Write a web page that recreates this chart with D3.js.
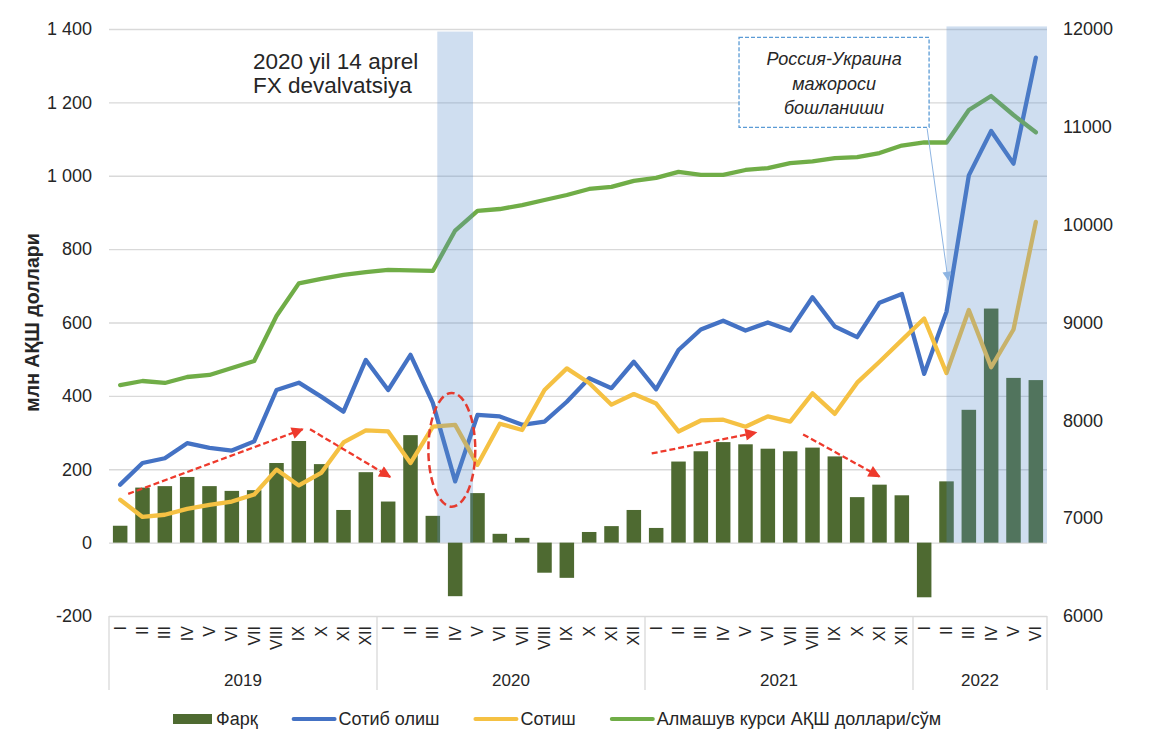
<!DOCTYPE html>
<html>
<head>
<meta charset="utf-8">
<title>Валюта савдоси</title>
<style>
    body { margin: 0; background: #fff; }
    text { font-family: "Liberation Sans", Arial, sans-serif; fill: #262626; }
</style>
</head>
<body>
<div class="plot_container"></div>
<script src="https://cdn.jsdelivr.net/npm/d3@7"></script>
<script>
// data
var months = ["I","II","III","IV","V","VI","VII","VIII","IX","X","XI","XII",
              "I","II","III","IV","V","VI","VII","VIII","IX","X","XI","XII",
              "I","II","III","IV","V","VI","VII","VIII","IX","X","XI","XII",
              "I","II","III","IV","V","VI"];
var years = ["2019", "2020", "2021", "2022"];
var yearLen = [12, 12, 12, 6];
var farq = [46, 150, 154, 179, 154, 141, 143, 217, 277, 214, 89, 192,
            112, 293, 73, -146, 135, 24, 13, -82, -96, 29, 45, 89,
            40, 221, 249, 274, 268, 256, 249, 259, 235, 124, 158, 129,
            -149, 167, 362, 638, 449, 443];
var sotib = [158, 217, 230, 271, 258, 251, 276, 416, 436, 398, 357, 498,
             416, 512, 381, 167, 348, 344, 321, 330, 384, 448, 421, 493,
             418, 525, 581, 605, 578, 600, 578, 669, 589, 560, 654, 678,
             460, 629, 1001, 1122, 1033, 1322];
var sotish = [117, 70, 76, 92, 103, 112, 131, 199, 156, 190, 273, 306,
              303, 217, 316, 321, 212, 324, 307, 416, 475, 435, 376, 405,
              379, 303, 333, 335, 316, 344, 330, 407, 351, 436, 493, 552,
              611, 462, 634, 478, 581, 874];
var kurs = [8361, 8402, 8382, 8443, 8464, 8535, 8607, 9066, 9400, 9445, 9486, 9516,
            9537, 9532, 9527, 9940, 10140, 10160, 10200, 10252, 10303, 10365, 10386, 10447,
            10478, 10539, 10508, 10508, 10559, 10578, 10629, 10648, 10680, 10690, 10732, 10809,
            10840, 10840, 11172, 11315, 11121, 10944];
var leftTicks = [-200, 0, 200, 400, 600, 800, 1000, 1200, 1400];
var rightTicks = [6000, 7000, 8000, 9000, 10000, 11000, 12000];
var seriesNames = ["Фарқ", "Сотиб олиш", "Сотиш", "Алмашув курси АҚШ доллари/сўм"];
var seriesColors = ["#4e6a31", "#4472c4", "#f5c143", "#70ad47"];

// annotations (month index, value)
var shades = [{i0: 14.2, i1: 15.8, v0: 0, v1: 1393}, {i0: 37, i1: 41.5, v0: 0, v1: 1407}];
var trendArrows = [{i0: 0.36, v0: 133, i1: 8.17, v1: 309},
                   {i0: 8.5, v0: 309, i1: 12.09, v1: 179},
                   {i0: 23.8, v0: 243, i1: 28.48, v1: 300},
                   {i0: 30.58, v0: 295, i1: 34.0, v1: 180}];

(function(){
var width = 1168, height = 750;
var plotL = 109, plotR = 1047, plotT = 29, plotB = 616;

var svg = d3.select(".plot_container").append("svg")
        .attr("width", width)
        .attr("height", height);

var x = d3.scaleBand()
        .domain(d3.range(months.length))
        .range([plotL, plotR])
        .paddingInner(0.35)
        .paddingOuter(0.175);
var xc = function(i){ return x(0) + x.bandwidth()/2 + i*x.step(); };
var yL = d3.scaleLinear().domain([-200, 1400]).range([plotB, plotT]);
var yR = d3.scaleLinear().domain([6000, 12000]).range([plotB, plotT]);

// grid + left axis
var gL = svg.append("g")
        .attr("transform", "translate(" + plotL + ",0)")
        .call(d3.axisLeft(yL).tickValues(leftTicks)
            .tickSize(-(plotR-plotL)).tickPadding(17)
            .tickFormat(function(d){ return d3.format(",")(d).replace(",", " ").replace("\u2212", "-"); }));
gL.select(".domain").remove();
gL.selectAll("line").attr("stroke", "#d9d9d9").attr("stroke-width", 1.3);
gL.selectAll("text").style("font-size", "18px").attr("fill", "#262626");

var gR = svg.append("g")
        .attr("transform", "translate(" + plotR + ",0)")
        .call(d3.axisRight(yR).tickValues(rightTicks).tickSize(0).tickPadding(16)
            .tickFormat(d3.format("d")));
gR.select(".domain").remove();
gR.selectAll("text").style("font-size", "18px").attr("fill", "#262626");

// category axis
var sep = [0];
yearLen.forEach(function(n, k){ sep.push(sep[k] + n); });
svg.selectAll(".sep").data(sep).enter().append("line")
        .attr("x1", function(d){ return xc(d - 0.5); })
        .attr("x2", function(d){ return xc(d - 0.5); })
        .attr("y1", plotB).attr("y2", 690)
        .attr("stroke", "#d9d9d9").attr("stroke-width", 1.3);

svg.selectAll(".month").data(months).enter().append("text")
        .attr("transform", function(d, i){ return "translate(" + xc(i) + ",626) rotate(-90)"; })
        .attr("text-anchor", "end")
        .attr("dominant-baseline", "central")
        .style("font-size", "16px")
        .text(function(d){ return d; });

svg.selectAll(".year").data(years).enter().append("text")
        .attr("x", function(d, k){ return (xc(sep[k] - 0.5) + xc(sep[k+1] - 0.5))/2; })
        .attr("y", 686)
        .attr("text-anchor", "middle")
        .style("font-size", "17px")
        .text(function(d){ return d; });

// bars
svg.selectAll(".bar").data(farq).enter().append("rect")
        .attr("class", "bar")
        .attr("x", function(d, i){ return x(i); })
        .attr("width", x.bandwidth())
        .attr("y", function(d){ return yL(Math.max(0, d)); })
        .attr("height", function(d){ return Math.abs(yL(d) - yL(0)); })
        .attr("fill", seriesColors[0]);

// lines
function drawLine(values, yScale, color){
    var line = d3.line()
            .x(function(d, i){ return xc(i); })
            .y(function(d){ return yScale(d); });
    svg.append("path").datum(values)
            .attr("d", line)
            .attr("fill", "none")
            .attr("stroke", color)
            .attr("stroke-width", 4.3)
            .attr("stroke-linejoin", "round")
            .attr("stroke-linecap", "round");
}
drawLine(sotib, yL, seriesColors[1]);
drawLine(sotish, yL, seriesColors[2]);
drawLine(kurs, yR, seriesColors[3]);

// shaded periods
svg.selectAll(".shade").data(shades).enter().append("rect")
        .attr("x", function(d){ return xc(d.i0); })
        .attr("width", function(d){ return xc(d.i1) - xc(d.i0); })
        .attr("y", function(d){ return yL(d.v1); })
        .attr("height", function(d){ return yL(d.v0) - yL(d.v1); })
        .attr("fill", "rgb(91,141,203)")
        .attr("fill-opacity", 0.29);

// red trend arrows
var defs = svg.append("defs");
defs.append("marker").attr("id", "redhead")
        .attr("viewBox", "0 0 10 10").attr("refX", 9).attr("refY", 5)
        .attr("markerWidth", 15).attr("markerHeight", 12)
        .attr("markerUnits", "userSpaceOnUse")
        .attr("orient", "auto")
        .append("path").attr("d", "M0,0L10,5L0,10Z").attr("fill", "#ee3a2c");
defs.append("marker").attr("id", "bluehead")
        .attr("viewBox", "0 0 10 10").attr("refX", 9).attr("refY", 5)
        .attr("markerWidth", 11).attr("markerHeight", 9)
        .attr("markerUnits", "userSpaceOnUse")
        .attr("orient", "auto")
        .append("path").attr("d", "M0,0L10,5L0,10Z").attr("fill", "#8db4e2");

svg.selectAll(".trend").data(trendArrows).enter().append("line")
        .attr("x1", function(d){ return xc(d.i0); })
        .attr("y1", function(d){ return yL(d.v0); })
        .attr("x2", function(d){ return xc(d.i1); })
        .attr("y2", function(d){ return yL(d.v1); })
        .attr("stroke", "#ee3a2c")
        .attr("stroke-width", 2.3)
        .attr("stroke-dasharray", "6,3")
        .attr("marker-end", "url(#redhead)");

// ellipse around April 2020
svg.append("ellipse")
        .attr("cx", xc(14.85))
        .attr("cy", yL(253))
        .attr("rx", x.step()*1.05)
        .attr("ry", yL(98) - yL(253))
        .attr("fill", "none")
        .attr("stroke", "#e53b2f")
        .attr("stroke-width", 2.5)
        .attr("stroke-dasharray", "8,4");

// devaluation note
var note = svg.append("text")
        .attr("x", xc(5.95)).attr("y", yL(1292))
        .style("font-size", "22.5px");
note.append("tspan").text("2020 yil 14 aprel");
note.append("tspan").attr("x", xc(5.95)).attr("dy", 24).text("FX devalvatsiya");

// Russia-Ukraine box
var bx0 = xc(27.71), bx1 = xc(36.22), by0 = yL(1377), by1 = yL(1132);
svg.append("rect")
        .attr("x", bx0).attr("y", by0)
        .attr("width", bx1 - bx0).attr("height", by1 - by0)
        .attr("fill", "#fff")
        .attr("stroke", "#5b9bd5")
        .attr("stroke-width", 1.3)
        .attr("stroke-dasharray", "4,2");
var boxLines = ["Россия-Украина", "мажороси", "бошланиши"];
svg.selectAll(".boxline").data(boxLines).enter().append("text")
        .attr("x", (bx0 + bx1)/2)
        .attr("y", function(d, k){ return by0 + 28 + k*24.5; })
        .attr("text-anchor", "middle")
        .style("font-size", "18px")
        .style("font-style", "italic")
        .text(function(d){ return d; });
svg.append("line")
        .attr("x1", bx1 - 2).attr("y1", by1 + 1)
        .attr("x2", xc(37.07)).attr("y2", yL(716))
        .attr("stroke", "#8db4e2")
        .attr("stroke-width", 1)
        .attr("marker-end", "url(#bluehead)");

// y title
svg.append("text")
        .attr("transform", "translate(32," + yL(600) + ") rotate(-90)")
        .attr("text-anchor", "middle")
        .attr("dominant-baseline", "central")
        .style("font-size", "19.5px")
        .style("font-weight", "bold")
        .text("млн АҚШ доллари");

// legend
var legend = svg.append("g").attr("transform", "translate(173,719)");
var lx = 0;
seriesNames.forEach(function(name, k){
    var item = legend.append("g").attr("transform", "translate(" + lx + ",0)");
    if(k == 0){
        item.append("rect").attr("x", 0).attr("y", -5).attr("width", 39).attr("height", 10)
                .attr("fill", seriesColors[k]);
    } else {
        item.append("line").attr("x1", 1).attr("x2", 42).attr("y1", 0).attr("y2", 0)
                .attr("stroke", seriesColors[k]).attr("stroke-width", 4)
                .attr("stroke-linecap", "round");
    }
    var t = item.append("text")
            .attr("x", k == 0 ? 43 : 46)
            .attr("dominant-baseline", "central")
            .style("font-size", "18px")
            .text(name);
    lx += (k == 0 ? 43 : 46) + t.node().getComputedTextLength() + 35;
});
})();
</script>
</body>
</html>
